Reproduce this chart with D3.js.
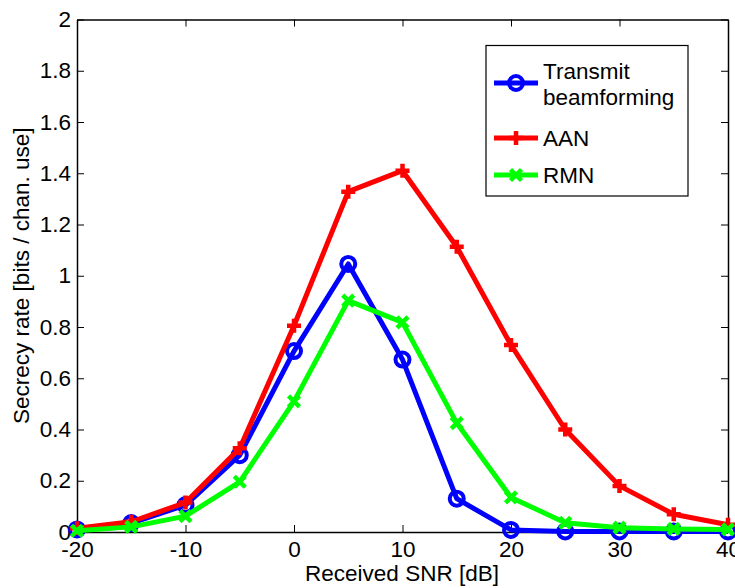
<!DOCTYPE html>
<html>
<head>
<meta charset="utf-8">
<script src="https://cdn.jsdelivr.net/npm/d3@7"></script>
<style>
  body { margin: 0; background: #fff; }
  text { font-family: 'Liberation Sans', Arial, Helvetica, sans-serif; }
</style>
</head>
<body>
<div id="chart"></div>
<script>
// data
const snr = [-20, -15, -10, -5, 0, 5, 10, 15, 20, 25, 30, 35, 40]
const beamforming = [0.01, 0.035, 0.105, 0.30, 0.706, 1.046, 0.673, 0.13, 0.008, 0.002, 0.002, 0.002, 0.002]
const aan = [0.015, 0.04, 0.115, 0.327, 0.805, 1.328, 1.41, 1.113, 0.73, 0.40, 0.18, 0.069, 0.028]
const rmn = [0.005, 0.02, 0.062, 0.196, 0.51, 0.903, 0.818, 0.425, 0.135, 0.036, 0.017, 0.012, 0.01]
const xTicks = [-20, -10, 0, 10, 20, 30, 40]
const yTicks = [0, 0.2, 0.4, 0.6, 0.8, 1, 1.2, 1.4, 1.6, 1.8, 2]

const series = [
  { name: 'Transmit beamforming', values: beamforming, color: '#0000ff', marker: 'circle' },
  { name: 'AAN', values: aan, color: '#ff0000', marker: 'plus' },
  { name: 'RMN', values: rmn, color: '#00ff00', marker: 'cross' }
]

const dimensions = {
  width: 735,
  height: 588,
  margin: { top: 19.5, right: 7, bottom: 56, left: 77 }
}
const innerW = dimensions.width - dimensions.margin.left - dimensions.margin.right
const innerH = dimensions.height - dimensions.margin.top - dimensions.margin.bottom

const svg = d3.select('#chart').append('svg')
  .attr('width', dimensions.width)
  .attr('height', dimensions.height)

const bounds = svg.append('g')
  .attr('transform', `translate(${dimensions.margin.left}, ${dimensions.margin.top})`)

const xScale = d3.scaleLinear().domain([-20, 40]).range([0, innerW])
const yScale = d3.scaleLinear().domain([0, 2]).range([innerH, 0])

const fontSize = 22.5
const tickLen = 7
// matlab prints a plain hyphen for negatives
const fmt = d => String(+(+d).toFixed(1))

// axes (matlab style: ticks inside, box on)
const xAxis = bounds.append('g')
  .attr('transform', `translate(0, ${innerH})`)
  .call(d3.axisBottom(xScale).tickValues(xTicks).tickFormat(fmt).tickSizeInner(-tickLen).tickSizeOuter(0).tickPadding(9))
const yAxis = bounds.append('g')
  .call(d3.axisLeft(yScale).tickValues(yTicks).tickFormat(fmt).tickSizeInner(-tickLen).tickSizeOuter(0).tickPadding(6))
const xTop = bounds.append('g')
  .call(d3.axisTop(xScale).tickValues(xTicks).tickSizeInner(-tickLen).tickSizeOuter(0).tickFormat(''))
const yRight = bounds.append('g')
  .attr('transform', `translate(${innerW}, 0)`)
  .call(d3.axisRight(yScale).tickValues(yTicks).tickSizeInner(-tickLen).tickSizeOuter(0).tickFormat(''))

;[xAxis, yAxis, xTop, yRight].forEach(a => {
  a.select('.domain').attr('stroke', '#000').attr('stroke-width', 1.5)
  a.selectAll('.tick line').attr('stroke', '#000').attr('stroke-width', 1)
  a.selectAll('.tick text').attr('fill', '#000').style('font-size', fontSize + 'px')
})
xAxis.selectAll('.tick text').attr('dy', '0.71em')

// axis labels
svg.append('text')
  .attr('x', 402)
  .attr('y', 581)
  .attr('text-anchor', 'middle')
  .style('font-size', fontSize + 'px')
  .text('Received SNR [dB]')

svg.append('text')
  .attr('transform', `translate(29, ${dimensions.margin.top + innerH / 2}) rotate(-90)`)
  .attr('text-anchor', 'middle')
  .style('font-size', fontSize + 'px')
  .text('Secrecy rate [bits / chan. use]')

// markers
function drawMarker (g, type, color) {
  if (type === 'circle') {
    g.append('circle').attr('r', 7).attr('fill', 'none').attr('stroke', color).attr('stroke-width', 4)
  } else if (type === 'plus') {
    g.append('path').attr('d', 'M-7,0H7M0,-7V7').attr('stroke', color).attr('stroke-width', 4.5)
  } else {
    g.append('path').attr('d', 'M-5.5,-5.5L5.5,5.5M-5.5,5.5L5.5,-5.5').attr('stroke', color).attr('stroke-width', 4.5)
  }
}

const line = d3.line()
  .x(d => xScale(d[0]))
  .y(d => yScale(d[1]))

series.forEach(s => {
  const pts = d3.zip(snr, s.values)
  bounds.append('path')
    .attr('d', line(pts))
    .attr('fill', 'none')
    .attr('stroke', s.color)
    .attr('stroke-width', 5)
    .attr('stroke-linejoin', 'round')
  pts.forEach(p => {
    const g = bounds.append('g').attr('transform', `translate(${xScale(p[0])}, ${yScale(p[1])})`)
    drawMarker(g, s.marker, s.color)
  })
})

// legend
const legend = svg.append('g')
legend.append('rect')
  .attr('x', 486).attr('y', 45.5)
  .attr('width', 202).attr('height', 150.5)
  .attr('fill', '#fff').attr('stroke', '#000').attr('stroke-width', 1.2)

const legendRows = [
  { y: 83, labels: ['Transmit', 'beamforming'], textY: [79, 105] },
  { y: 138, labels: ['AAN'], textY: [146] },
  { y: 175, labels: ['RMN'], textY: [183] }
]
legendRows.forEach((r, i) => {
  const s = series[i]
  legend.append('line')
    .attr('x1', 494).attr('x2', 538).attr('y1', r.y).attr('y2', r.y)
    .attr('stroke', s.color).attr('stroke-width', 5)
  const g = legend.append('g').attr('transform', `translate(516, ${r.y})`)
  drawMarker(g, s.marker, s.color)
  r.labels.forEach((t, j) => {
    legend.append('text')
      .attr('x', 543).attr('y', r.textY[j])
      .style('font-size', fontSize + 'px')
      .text(t)
  })
})
</script>
</body>
</html>
